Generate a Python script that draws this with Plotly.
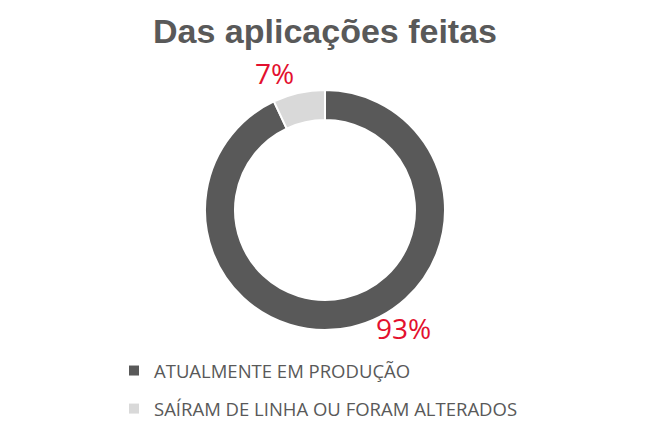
import plotly.graph_objects as go

categories = ["ATUALMENTE EM PRODUÇÃO", "SAÍRAM DE LINHA OU FORAM ALTERADOS"]
values = [93, 7]
colors = ["#595959", "#D9D9D9"]
title_text = "Das aplicações feitas"

W, H = 650, 431
cx, cy, R = 325, 210, 120

fig = go.Figure()
fig.add_trace(go.Pie(
    labels=categories, values=values, hole=0.75, sort=False,
    direction="clockwise", rotation=0,
    marker=dict(colors=colors, line=dict(color="white", width=2)),
    textinfo="none", hoverinfo="label+percent", showlegend=False,
    domain=dict(x=[(cx - R) / W, (cx + R) / W], y=[1 - (cy + R) / H, 1 - (cy - R) / H]),
))
for i, (cat, col) in enumerate(zip(categories, colors)):
    fig.add_trace(go.Scatter(x=[None], y=[None], mode="markers", name=cat,
                             legendgroup=f"g{i}",
                             marker=dict(symbol="square", size=10, color=col)))

total = sum(values)
label_pos = [(404, 328), (274, 73)]
for v, (px, py) in zip(values, label_pos):
    fig.add_annotation(x=px / W, y=1 - py / H, xref="paper", yref="paper",
                       text=f"{round(100 * v / total)}%", showarrow=False,
                       xanchor="center", yanchor="middle",
                       font=dict(family="Open Sans, Liberation Sans", size=28, color="#E3102E"))

fig.update_layout(
    width=W, height=H, margin=dict(l=0, r=0, t=0, b=0),
    paper_bgcolor="white", plot_bgcolor="white",
    title=dict(text=f"<b>{title_text}</b>", x=0.5, xanchor="center", y=1 - 31 / H, yanchor="middle",
               font=dict(family="Liberation Sans", size=34, color="#595959")),
    xaxis=dict(visible=False), yaxis=dict(visible=False),
    legend=dict(x=114 / W, xanchor="left", y=1 - 352 / H, yanchor="top",
                font=dict(family="Open Sans, Liberation Sans", size=18.5, color="#595959"),
                tracegroupgap=11, itemclick=False),
    legend_traceorder="grouped",
)

fig.write_html("out.html")
